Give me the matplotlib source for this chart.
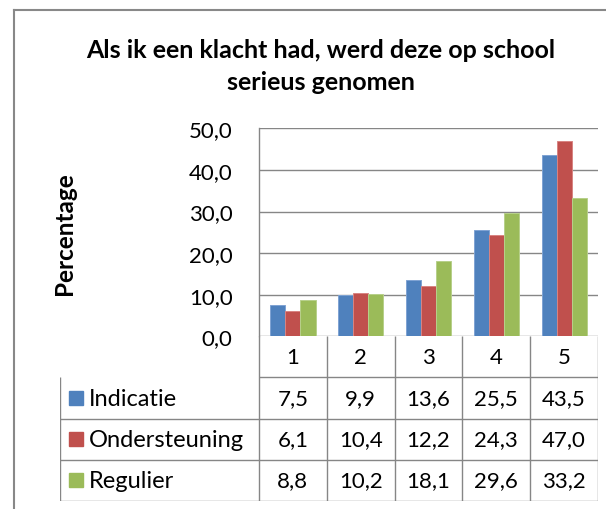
import numpy as np
import matplotlib
matplotlib.use('Agg')
import matplotlib.pyplot as plt
from matplotlib.patches import Rectangle
from matplotlib.lines import Line2D

plt.rcParams['font.family'] = ['Lato', 'DejaVu Sans']

categories = ['1', '2', '3', '4', '5']
series = ['Indicatie', 'Ondersteuning', 'Regulier']
indicatie = [7.5, 9.9, 13.6, 25.5, 43.5]
ondersteuning = [6.1, 10.4, 12.2, 24.3, 47.0]
regulier = [8.8, 10.2, 18.1, 29.6, 33.2]
values = [indicatie, ondersteuning, regulier]
colors = ['#4F81BD', '#C0504D', '#9BBB59']
edges = ['#7FA3D3', '#D88482', '#B7D08A']
yticks = [0, 10, 20, 30, 40, 50]

W, H = 606, 510
fig = plt.figure(figsize=(W / 100, H / 100), dpi=100)
grid_c = '#868686'


def px_box(x0, y0, x1, y1):
    # pixel box (top-left origin) -> figure fraction rect
    return [x0 / W, 1 - y1 / H, (x1 - x0) / W, (y1 - y0) / H]


# outer chart border (cropped on right/bottom)
fig.add_artist(Line2D([14 / W, 14 / W], [0, 1 - 11 / H], color='#888888', lw=1.5))
fig.add_artist(Line2D([14 / W, 1], [1 - 11 / H, 1 - 11 / H], color='#888888', lw=1.5))

# plot area
x_left, x_right, y_top, y_zero = 259, 598, 129.3, 337.3
ax = fig.add_axes(px_box(x_left, y_top, x_right, y_zero))
n = len(categories)
x = np.arange(n)
bw = 1 / (3 + 1.5)
for i, (vals, c, ec) in enumerate(zip(values, colors, edges)):
    ax.bar(x + (i - 1) * bw, vals, bw, color=c, edgecolor=ec, linewidth=0.7, zorder=3)
ax.set_xlim(-0.5, n - 0.5)
ax.set_ylim(0, 50)
ax.set_yticks(yticks)
ax.set_yticklabels([f'{t:.1f}'.replace('.', ',') for t in yticks], fontsize=16)
ax.set_xticks([])
ax.tick_params(axis='y', length=0, pad=19)
ax.yaxis.grid(True, color=grid_c, lw=1.0, zorder=0)
for s in ['top', 'right', 'bottom']:
    ax.spines[s].set_visible(False)
ax.spines['left'].set_color(grid_c)
ax.spines['left'].set_linewidth(1.0)
ax.set_facecolor('none')

fig.text(65 / W, 1 - 234 / H, 'Percentage', rotation=90, fontsize=17.5, fontweight='bold',
         ha='center', va='center')
fig.text(321 / W, 1 - 50 / H, 'Als ik een klacht had, werd deze op school', fontsize=18,
         fontweight='bold', ha='center', va='center')
fig.text(321 / W, 1 - 83 / H, 'serieus genomen', fontsize=18, fontweight='bold',
         ha='center', va='center')

# data table below the plot
t_left, t_bottom = 60, 502
row_h = (t_bottom - y_zero) / 4
tab = fig.add_axes(px_box(t_left, y_zero, x_right, t_bottom))
tab.set_xlim(t_left, x_right)
tab.set_ylim(t_bottom, y_zero)
tab.axis('off')
col_w = (x_right - x_left) / n
col_edges = [x_left + k * col_w for k in range(n + 1)]
lk = dict(color=grid_c, lw=1.0, solid_capstyle='butt')
for xe in col_edges:
    tab.plot([xe, xe], [y_zero, t_bottom], **lk)
tab.plot([t_left, t_left], [y_zero + row_h, t_bottom], **lk)
tab.plot([x_left, x_right], [y_zero + row_h, y_zero + row_h], **lk)
for r in range(2, 5):
    yy = y_zero + r * row_h
    tab.plot([t_left, x_right], [yy, yy], **lk)
for k, cat in enumerate(categories):
    tab.text(x_left + (k + 0.5) * col_w, y_zero + 0.5 * row_h, cat, fontsize=16,
             ha='center', va='center')
for r, (name, vals, c) in enumerate(zip(series, values, colors)):
    yc = y_zero + (r + 1.5) * row_h
    tab.add_patch(Rectangle((69, yc - 7), 14, 14, color=c, clip_on=False))
    tab.text(89, yc, name, fontsize=17, ha='left', va='center')
    for k, v in enumerate(vals):
        tab.text(x_left + (k + 0.5) * col_w, yc, f'{v:.1f}'.replace('.', ','), fontsize=16,
                 ha='center', va='center')

fig.savefig('out.png', dpi=100)
